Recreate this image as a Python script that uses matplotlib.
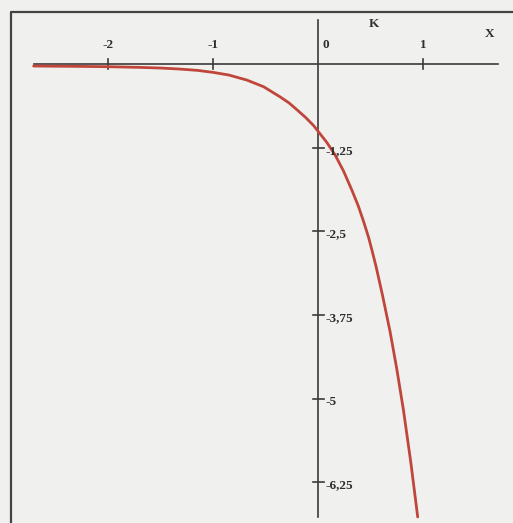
import matplotlib
matplotlib.use('Agg')
import matplotlib.pyplot as plt

# curve points
curve_x = [-2.71, -2.3, -2.0, -1.7, -1.5, -1.32, -1.15, -1.0, -0.85, -0.68, -0.52,
           -0.365, -0.28, -0.206, -0.12, -0.045, 0.0, 0.08, 0.16, 0.24, 0.318,
           0.38, 0.43, 0.48, 0.51, 0.55, 0.61, 0.683, 0.746, 0.81, 0.88, 0.946]
curve_y = [-0.03, -0.035, -0.04, -0.05, -0.06, -0.075, -0.095, -0.125, -0.165, -0.24, -0.34,
           -0.49, -0.58, -0.68, -0.80, -0.92, -1.01, -1.17, -1.36, -1.60, -1.88,
           -2.12, -2.35, -2.60, -2.78, -3.03, -3.45, -4.00, -4.55, -5.17, -5.95, -6.77]

x_ticks = [-2, -1, 1]
x_tick_labels = ['-2', '-1', '1']
y_ticks = [-1.25, -2.5, -3.75, -5, -6.25]
y_tick_labels = ['-1,25', '-2,5', '-3,75', '-5', '-6,25']

bg = '#f0f0ee'
axis_col = '#3a3a3a'
font = dict(family='Liberation Serif', fontweight='bold', fontsize=9.5, color='#2e2e2e')

fig = plt.figure(figsize=(5.13, 5.23), dpi=100, facecolor=bg)
ax = fig.add_axes([0, 0, 1, 1])
ax.set_facecolor(bg)
ax.set_xlim(-3.03, 1.853)
ax.set_ylim(-6.86, 0.957)
ax.axis('off')

# outer frame (left and top edges of the scanned page)
ax.plot([-2.926, -2.926, 1.9], [-7.0, 0.785, 0.785], color='#444444', lw=1.6, clip_on=False)

# coordinate axes
ax.plot([-2.71, 1.71], [0, 0], color=axis_col, lw=1.2)
ax.plot([0, 0], [0.66, -6.77], color=axis_col, lw=1.2)

for xt, lab in zip(x_ticks, x_tick_labels):
    ax.plot([xt, xt], [0.075, -0.075], color=axis_col, lw=1.2)
    ax.text(xt, 0.2, lab, ha='center', va='bottom', **font)
ax.text(0.07, 0.2, '0', ha='center', va='bottom', **font)

for yt, lab in zip(y_ticks, y_tick_labels):
    ax.plot([-0.05, 0.05], [yt, yt], color=axis_col, lw=1.2)
    ax.text(0.065, yt - 0.05, lab, ha='left', va='center', **font)

ax.text(0.53, 0.6, 'K', ha='center', va='center', **font)
ax.text(1.63, 0.45, 'X', ha='center', va='center', **font)

ax.plot(curve_x, curve_y, color='#c0463c', lw=2.0, solid_capstyle='round',
        solid_joinstyle='round')

fig.savefig('out.png', dpi=100, facecolor=bg)
